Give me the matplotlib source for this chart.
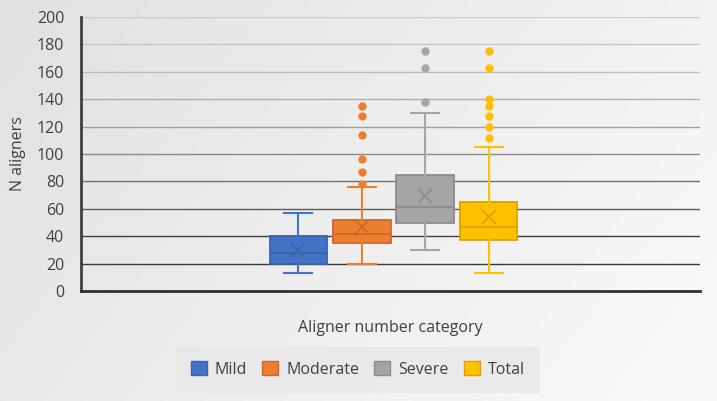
import numpy as np
import matplotlib.pyplot as plt
from matplotlib.patches import Patch

plt.rcParams['font.family'] = ['Open Sans', 'DejaVu Sans']

# Box statistics
categories = ['Mild', 'Moderate', 'Severe', 'Total']
whislo = [13, 20, 30, 13]
q1 = [20, 35, 50, 37]
med = [28, 42, 61, 47]
q3 = [40, 52, 85, 65]
whishi = [57, 76, 130, 105]
means = [30, 47, 69, 54]
fliers = [
    [],
    [78, 87, 96, 114, 128, 135],
    [138, 163, 175],
    [112, 120, 128, 135, 140, 163, 175],
]

fills = ['#4472C4', '#ED7D31', '#A5A5A5', '#FFC000']
edges = ['#3A62AD', '#C8692A', '#8C8C8C', '#D9A300']

fig = plt.figure(figsize=(7.17, 4.01), dpi=100)

# light gradient background
bg = fig.add_axes([0, 0, 1, 1], zorder=-10)
grad = np.linspace(0, 1, 256)
img = 0.88 + 0.10 * (grad[None, :] * 0.7 + grad[:, None] * 0.3)
bg.imshow(img, cmap='gray', vmin=0, vmax=1, aspect='auto', extent=[0, 1, 0, 1])
bg.axis('off')

ax = fig.add_axes([0.113, 0.274, 0.863, 0.684])
ax.patch.set_alpha(0)

# gridlines darker towards the bottom
grid_vals = np.arange(20, 201, 20)
grid_cols = ['#3a3a3a', '#3f3f3f', '#5a5a5a', '#707070', '#8a8a8a',
             '#a0a0a0', '#b0b0b0', '#bdbdbd', '#c6c6c6', '#cccccc']
for v, c in zip(grid_vals, grid_cols):
    ax.axhline(v, color=c, lw=1.0, zorder=0)

positions = np.array([-1.5, -0.5, 0.5, 1.5]) * 0.1025 + 0.005
for i in range(len(categories)):
    stats = [dict(whislo=whislo[i], q1=q1[i], med=med[i], q3=q3[i],
                  whishi=whishi[i], mean=means[i], fliers=fliers[i])]
    ax.bxp(stats, positions=[positions[i]], widths=0.093, patch_artist=True,
           showmeans=True,
           boxprops=dict(facecolor=fills[i], edgecolor=edges[i], lw=1.3),
           medianprops=dict(color=edges[i], lw=1.3),
           whiskerprops=dict(color=fills[i], lw=1.5),
           capprops=dict(color=fills[i], lw=1.5),
           capwidths=0.045,
           meanprops=dict(marker='x', markeredgecolor=edges[i], markersize=10,
                          markeredgewidth=1.2),
           flierprops=dict(marker='o', markerfacecolor=fills[i],
                           markeredgecolor=fills[i], markersize=5),
           zorder=3)

ax.set_xlim(-0.5, 0.5)
ax.set_ylim(0, 200)
ax.set_yticks(np.arange(0, 201, 20))
ax.set_xticks([])
ax.tick_params(axis='y', length=0, labelsize=11.5, labelcolor='#404040', pad=12)
for s in ['top', 'right']:
    ax.spines[s].set_visible(False)
ax.spines['left'].set_color('#404040')
ax.spines['left'].set_linewidth(2)
ax.spines['bottom'].set_color('#303030')
ax.spines['bottom'].set_linewidth(2)

ax.set_ylabel('N aligners', fontsize=11.5, color='#404040', labelpad=8)
ax.set_xlabel('Aligner number category', fontsize=11.5, color='#404040', labelpad=21)

handles = [Patch(facecolor=f, edgecolor=e, lw=1) for f, e in zip(fills, edges)]
leg = fig.legend(handles, categories, loc='center', bbox_to_anchor=(0.499, 0.079),
                 ncol=4, frameon=True, fontsize=11.5, handlelength=1.0,
                 handleheight=1.0, handletextpad=0.5, columnspacing=0.95,
                 borderpad=0.9, fancybox=False)
leg.get_frame().set_facecolor('#e8e8e8')
leg.get_frame().set_edgecolor('#e8e8e8')
for t in leg.get_texts():
    t.set_color('#404040')

fig.savefig('out.png', dpi=100)
